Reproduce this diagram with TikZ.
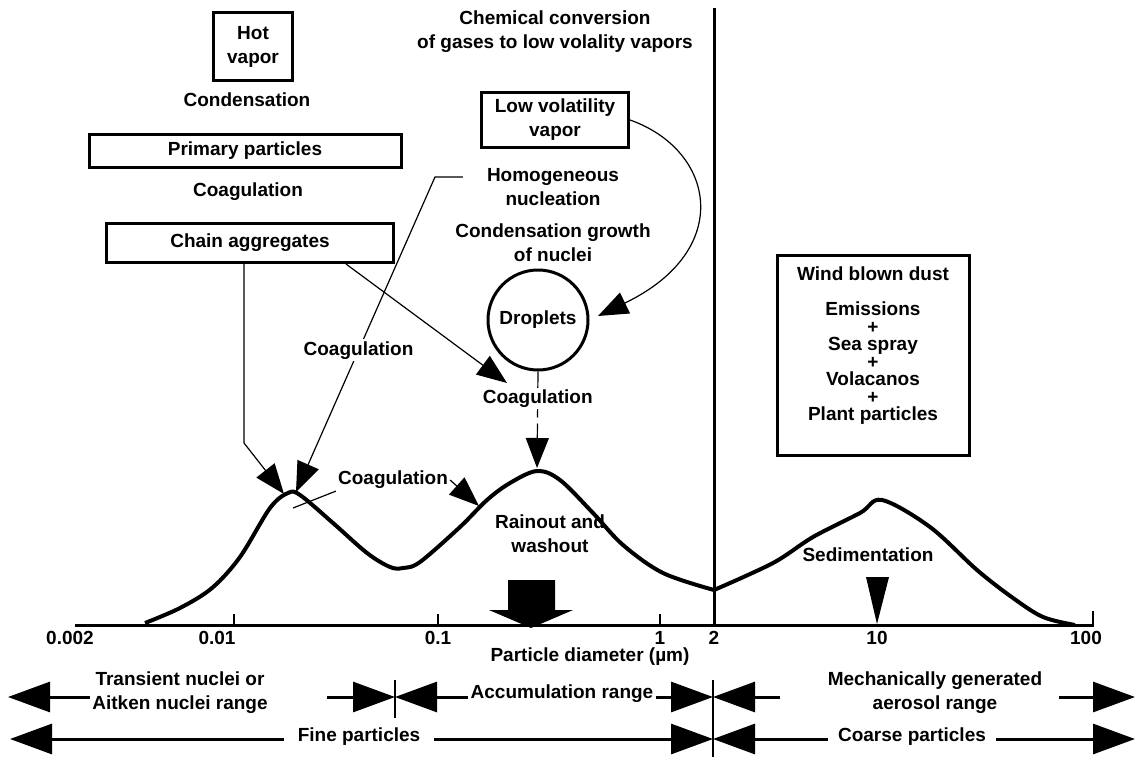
\documentclass[tikz,border=0pt]{standalone}
\usepackage{fontspec}
\setmainfont{Liberation Sans}
\usetikzlibrary{arrows.meta,positioning}

\begin{document}
\begin{tikzpicture}[x=1pt,y=-1pt,>=Latex,font=\fontsize{19}{24}\selectfont\bfseries]
  \tikzstyle{box}=[draw,line width=3pt,align=center,inner sep=2pt]
  \tikzstyle{lbl}=[align=center,inner sep=2pt]
  \tikzstyle{arr}=[line width=1.2pt,-{Triangle[length=30pt,width=23pt]}]
  \tikzstyle{bigarr}=[line width=3pt,-{Triangle[length=42pt,width=30pt]}]
  \useasboundingbox (0,0) rectangle (1137,757);

  \node[box,minimum width=79pt,minimum height=68pt] (hot) at (253,47) {Hot\\vapor};
  \node[lbl] (cond) at (247,100) {Condensation};
  \node[box,minimum width=312pt,minimum height=33pt] (prim) at (245,151) {Primary particles};
  \node[lbl] (coag1) at (248,192) {Coagulation};
  \node[box,minimum width=287pt,minimum height=39pt] (chain) at (250,243) {Chain aggregates};

  \node[lbl] (chem) at (555,32) {Chemical conversion\\of gases to low volality vapors};
  \node[box,minimum width=147pt,minimum height=54pt] (lowvap) at (555,120) {Low volatility\\vapor};
  \node[lbl] (homog) at (553,187) {Homogeneous\\nucleation};
  \node[lbl] (growth) at (553,243) {Condensation growth\\of nuclei};
  \node[draw,circle,line width=3pt,minimum size=100pt,inner sep=0pt] (drop) at (538,320) {Droplets};

  \draw[line width=3pt] (714,8) -- (714,625);

  \node[draw,line width=3pt,minimum width=192pt,minimum height=200pt] (dustbox) at (873,355) {};
  \node[lbl,below=11pt of dustbox.north,font=\fontsize{19}{17.5}\selectfont\bfseries] (dust)
    {Wind blown dust\\[18pt]Emissions\\+\\Sea spray\\+\\Volacanos\\+\\Plant particles};

  \draw[line width=4pt,line join=round] plot[smooth,tension=0.55] coordinates {
    (145,623) (180,608) (212,588) (240,557) (270,508) (288,493) (300,495) (333,523)
    (367,553) (390,567) (403,568) (420,562) (460,527) (487,500) (510,483) (537,471)
    (560,480) (593,513) (623,545) (663,573) (714,590)};
  \draw[line width=4pt,line join=round] plot[smooth,tension=0.55] coordinates {
    (714,590) (773,563) (813,537) (860,513) (882,500) (930,527) (977,570) (1013,598)
    (1043,617) (1075,625)};

  \coordinate (pk1a) at (284,494);
  \coordinate (pk1b) at (296,492);
  \coordinate (pk2) at (537,468);
  \coordinate (bend1) at (244,443);
  \coordinate (hbend) at (435,177);
  \coordinate (drtip) at (507,383);
  \coordinate (vtip) at (598,316);
  \coordinate (cgtip) at (479,506);
  \coordinate (cgfoot) at (293,508);

  \draw[arr] (chain.south -| bend1) -- (bend1) -- (pk1a);
  \draw[arr,shorten <=22pt] (homog.west |- hbend) -- (hbend) -- node[lbl,fill=white,pos=0.55] (coag2) {Coagulation} (pk1b);
  \draw[arr] ([xshift=-49pt]chain.south east) -- (drtip);
  \draw[arr,dash pattern=on 20pt off 6pt] (drop.south) -- node[lbl,fill=white,pos=0.28] (coag4) {Coagulation} (pk2);
  \draw[arr] (lowvap.east) .. controls (715,150) and (735,250) .. (vtip);

  \node[lbl] (coag3) at (393,480) {Coagulation};
  \draw[line width=1.2pt] (coag3.south west) -- (cgfoot);
  \draw[arr] (coag3.east) -- (cgtip);
  \node[lbl] (rain) at (550,534) {Rainout and\\washout};

  \fill (508,580) -- (555,580) -- (555,610) -- (573,610) -- (531,628) -- (489,610) -- (508,610) -- cycle;
  \node[lbl] (sed) at (868,555) {Sedimentation};
  \fill (866,577) -- (889,577) -- (877,624) -- cycle;

  \draw[line width=3pt] (75,625) -- (1093,625);
  \foreach \x in {234,438,660} \draw[line width=2pt] (\x,625) -- (\x,614);
  \draw[line width=2pt] (1093,627) -- (1093,611);
  \foreach \x/\t in {70/0.002,217/0.01,438/0.1,660/1,714/2,877/10,1086/100}
    \node[lbl] (tick\x) at (\x,638) {\t};
  \node[lbl] (xlabel) at (590,657) {Particle diameter (µm)};

  \coordinate (l1) at (8,697);
  \coordinate (m1) at (327,697);
  \coordinate (t1) at (395,697);
  \coordinate (t2) at (713,697);
  \coordinate (m2) at (780,697);
  \coordinate (r1) at (1135,697);
  \coordinate (l2) at (10,739);
  \coordinate (t3) at (713,739);
  \coordinate (r2) at (1135,739);

  \node[lbl] (trans) at (180,693) {Transient nuclei or\\Aitken nuclei range};
  \node[lbl] (accum) at (562,694) {Accumulation range};
  \node[lbl] (mech) at (935,693) {Mechanically generated\\aerosol range};
  \node[lbl,inner xsep=14pt] (fine) at (359,737) {Fine particles};
  \node[lbl,inner xsep=10pt] (coarse) at (912,737) {Coarse particles};

  \draw[bigarr] (trans.west |- l1) -- (l1);
  \draw[bigarr] (m1) -- (t1);
  \draw[bigarr] (accum.west |- t1) -- (t1);
  \draw[bigarr] (accum.east |- t2) -- (t2);
  \draw[bigarr] (m2) -- (t2);
  \draw[bigarr,shorten <=15pt] (mech.east |- r1) -- (r1);
  \draw[line width=2pt] (395,680) -- (395,718);
  \draw[line width=2pt] (713,680) -- (713,757);

  \draw[bigarr] (fine.west |- l2) -- (l2);
  \draw[bigarr] (fine.east |- t3) -- (t3);
  \draw[bigarr] (coarse.west |- t3) -- (t3);
  \draw[bigarr] (coarse.east |- r2) -- (r2);
\end{tikzpicture}
\end{document}
